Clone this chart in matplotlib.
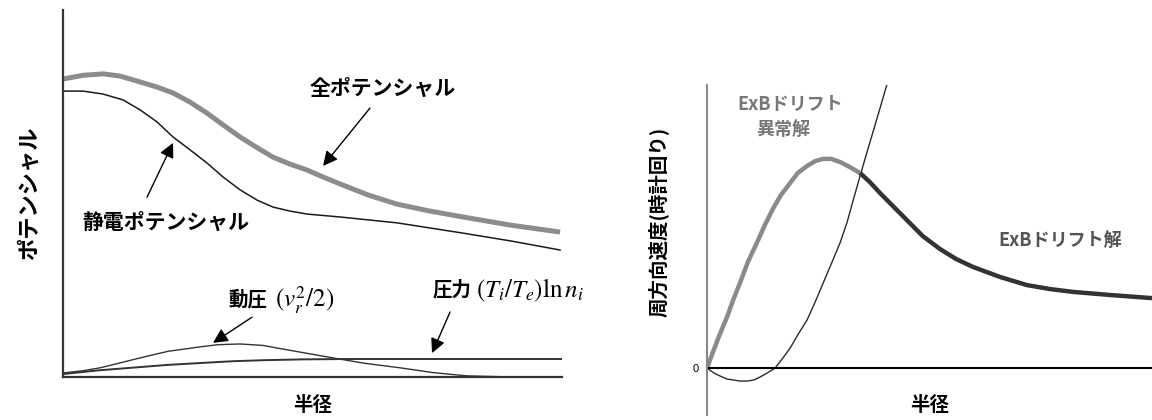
import matplotlib
matplotlib.use('Agg')
import matplotlib.pyplot as plt

plt.rcParams['font.family'] = ['Noto Sans CJK JP', 'DejaVu Sans']
plt.rcParams['mathtext.fontset'] = 'stix'

# 左: ポテンシャル分布 (半径 0-100, 値 0-100)
r_total = [0, 4, 8, 11.4, 15.4, 18.8, 22, 25.4, 28.8, 32, 35.4, 38.8, 42, 45.4, 48.8, 52,
           55.4, 61, 66.8, 73.4, 80, 89.4, 99.4]
v_total = [81.2, 82.2, 82.6, 82.0, 80.4, 79.0, 77.4, 74.9, 71.9, 68.7, 65.4, 62.5, 59.9, 58.0, 56.4, 54.5,
           52.6, 49.6, 47.1, 45.2, 43.6, 41.4, 39.5]

r_static = [0, 4, 8, 12, 15.4, 18.8, 22, 25.4, 28.8, 32, 35.4, 38.8, 42, 45.4, 48.8, 55.4,
            66.8, 80, 89.4, 99.4]
v_static = [77.9, 77.9, 77.1, 75.5, 72.8, 69.5, 65.4, 61.9, 58.3, 54.5, 51.0, 48.2, 46.3, 45.2, 44.4, 43.6,
            42.0, 39.2, 37.1, 34.6]

r_dyn = [0, 4, 7.4, 11, 15.4, 21, 27.4, 31, 35.4, 40, 44, 49, 54, 60, 67.4, 74, 80.8, 90, 99.8]
v_dyn = [1.1, 1.7, 2.5, 3.7, 5.2, 7.0, 8.2, 8.8, 9.0, 8.6, 7.6, 6.4, 5.2, 3.8, 2.5, 1.2, 0.3, 0.0, 0.0]

r_pres = [0, 7, 15.4, 21, 27.4, 34, 40.8, 48, 57.4, 70, 85, 99.8]
v_pres = [0.8, 1.8, 2.7, 3.3, 3.8, 4.3, 4.6, 4.8, 4.9, 4.9, 4.9, 4.9]

# 右: 周方向速度
r_exb = [0, 1.35, 2.9, 4.5, 5.8, 7.4, 9.2, 11.2, 13.0, 14.8, 16.6, 18.7, 20.4, 22.5, 24.3, 26.1,
         27.9, 29.9, 32.1, 34.4, 36.6, 38.9, 41.8, 44.9, 48.5, 52.4, 56.0, 59.8, 65.8, 71.9,
         77.1, 82.2, 90.6, 100]
v_exb = [0, 5.7, 12.0, 18.0, 23.7, 30.0, 37.5, 44.2, 50.5, 56.2, 61.1, 65.4, 68.9, 71.4, 73.1, 73.9,
         73.9, 72.8, 71.0, 68.9, 65.7, 61.8, 57.2, 52.3, 46.6, 42.0, 38.5, 35.7, 32.2, 29.3,
         27.9, 26.9, 25.8, 24.7]

r_anom = [0, 1.6, 2.9, 4.5, 5.8, 7.4, 9.0, 10.6, 11.9, 13.5, 15.3, 16.9, 18.7, 20.4, 22.5, 24.3,
          26.1, 27.9, 29.9, 31.5, 32.8, 34.4, 35.7, 37.1, 38.9, 40.4]
v_anom = [0, -1.8, -2.8, -3.9, -4.2, -4.6, -4.6, -4.2, -3.2, -1.8, 0, 3.2, 7.1, 11.7, 17.0, 23.3,
          30.0, 36.7, 44.2, 51.6, 59.0, 67.8, 74.9, 82.3, 91.9, 100]

fig = plt.figure(figsize=(11.52, 4.2), dpi=100)

# ---- 左パネル ----
ax1 = fig.add_axes([0.0547, 0.1024, 0.4332, 0.8738])
ax1.plot(r_total, v_total, color='#8c8c8c', lw=3.6, solid_capstyle='butt', solid_joinstyle='round')
ax1.plot(r_static, v_static, color='#1a1a1a', lw=1.1)
ax1.plot(r_dyn, v_dyn, color='#333333', lw=1.0)
ax1.plot(r_pres, v_pres, color='#333333', lw=1.4)
ax1.set_xlim(0, 99.8)
ax1.set_ylim(0, 100)
ax1.set_xticks([])
ax1.set_yticks([])
for s in ['top', 'right']:
    ax1.spines[s].set_visible(False)
for s in ['left', 'bottom']:
    ax1.spines[s].set_linewidth(1.6)
    ax1.spines[s].set_color('#333333')
ax1.set_ylabel('ポテンシャル', fontsize=16, fontweight='bold', labelpad=16)
ax1.set_xlabel('半径', fontsize=14, fontweight='bold', labelpad=14)

arrow = dict(arrowstyle='-|>', color='black', lw=1.0, mutation_scale=22, shrinkA=0, shrinkB=0)
ax1.annotate('', xy=(52, 57.5), xytext=(61.4, 73.3), arrowprops=arrow)
ax1.text(64, 78.7, '全ポテンシャル', fontsize=15, fontweight='bold', ha='center', va='center')
ax1.annotate('', xy=(22, 63.8), xytext=(16.8, 49.0), arrowprops=arrow)
ax1.text(20.6, 42.2, '静電ポテンシャル', fontsize=15, fontweight='bold', ha='center', va='center')
ax1.annotate('', xy=(30, 9.3), xytext=(37.8, 16.3), arrowprops=arrow)
ax1.text(33, 21, '動圧', fontsize=14, fontweight='bold', ha='left', va='center')
ax1.text(42.4, 21, '$(v_r^2/2)$', fontsize=18, ha='left', va='center')
ax1.annotate('', xy=(73.8, 6.5), xytext=(77.4, 17.7), arrowprops=arrow)
ax1.text(74, 23.7, '圧力', fontsize=14, fontweight='bold', ha='left', va='center')
ax1.text(82.6, 23.7, '$(T_i/T_e)\\ln n_i$', fontsize=18, ha='left', va='center', clip_on=False)

# ---- 右パネル ----
ax2 = fig.add_axes([0.6137, 0.0119, 0.3863, 0.7857])
ax2.plot(r_anom, v_anom, color='#2a2a2a', lw=1.0)
k = r_exb.index(34.4)
ax2.plot(r_exb[:k + 1], v_exb[:k + 1], color='#8a8a8a', lw=3.2, solid_capstyle='butt')
ax2.plot(r_exb[k:], v_exb[k:], color='#333333', lw=3.2, solid_capstyle='butt')
ax2.axhline(0, color='black', lw=1.5)
ax2.set_xlim(0, 100)
ax2.set_ylim(-16.6, 100)
ax2.set_xticks([])
ax2.set_yticks([0])
ax2.set_yticklabels(['0'], fontsize=8, family=['Liberation Sans', 'DejaVu Sans'])
ax2.tick_params(axis='y', length=0, pad=6)
for s in ['top', 'right', 'bottom']:
    ax2.spines[s].set_visible(False)
ax2.spines['left'].set_color('#888888')
ax2.spines['left'].set_linewidth(1.5)
ax2.set_ylabel('周方向速度(時計回り)', fontsize=14, fontweight='bold')
ax2.yaxis.set_label_coords(-0.085, 0.585)
ax2.text(0.5, 0.03, '半径', transform=ax2.transAxes, fontsize=14, fontweight='bold',
         ha='center', va='center')
ax2.text(18.7, 93.3, 'ExBドリフト', fontsize=13, fontweight='bold', color='#777777',
         ha='center', va='center')
ax2.text(17.1, 84.1, '異常解', fontsize=13, fontweight='bold', color='#777777',
         ha='center', va='center')
ax2.text(79.3, 44.9, 'ExBドリフト解', fontsize=13, fontweight='bold', color='#555555',
         ha='center', va='center')

fig.savefig('out.png', dpi=100)
